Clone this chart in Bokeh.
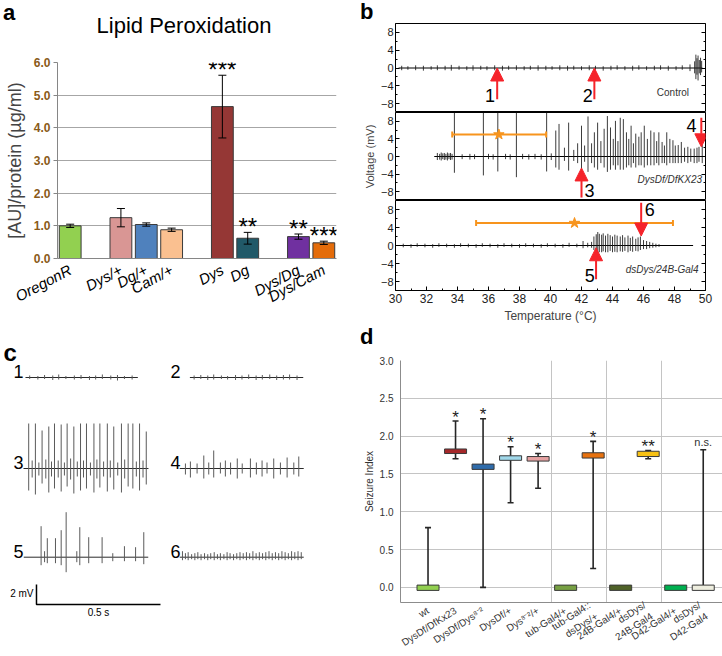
from bokeh.plotting import figure
from bokeh.models import (ColumnDataSource, Range1d, FactorRange, FixedTicker, Arrow, Div, LinearAxis,
                          NormalHead, NumeralTickFormatter)
from bokeh.layouts import column, row
from bokeh.embed import file_html
from bokeh.resources import INLINE
from bokeh.core.properties import value

FONT = "Liberation Sans"
NAN = float("nan")

# ---------------- panel a : lipid peroxidation ----------------
a_groups = ["OregonR", "Dys/+", "Dg/+", "Cam/+", "Dys", "Dg", "Dys/Dg", "Dys/Cam"]
a_means = [1.00, 1.25, 1.04, 0.88, 4.65, 0.62, 0.67, 0.48]
a_errs = [0.05, 0.28, 0.05, 0.05, 0.96, 0.18, 0.08, 0.05]
a_stars = ["", "", "", "", "***", "**", "**", "***"]
a_colors = ["#92d050", "#d99694", "#4f81bd", "#fac090", "#953735", "#215968", "#7030a0", "#e46c0a"]
a_slots = ["OregonR", " ", "Dys/+", "Dg/+", "Cam/+", "  ", "Dys", "Dg", "   ", "Dys/Dg", "Dys/Cam"]
a_yticks = [0, 1, 2, 3, 4, 5, 6]
a_title = "Lipid Peroxidation"

# ---------------- panel b : voltage vs temperature ----------------
b_xticks = [30, 32, 34, 36, 38, 40, 42, 44, 46, 48, 50]
b_yticks = [-8, -4, 0, 4, 8]

ctl_span = [30.2, 49.8]
ctl_T = [30.4, 30.8, 31.3, 31.8, 32.3, 32.7, 33.2, 33.6, 34.1, 34.6,
         35.0, 35.5, 35.9, 36.4, 36.9, 37.3, 37.8, 38.3, 38.7, 39.2,
         39.7, 40.1, 40.6, 41.1, 41.5, 42.0, 42.5, 42.9, 43.4, 43.9,
         44.3, 44.8, 45.3, 45.7, 46.2, 46.7, 47.1, 47.6, 48.1, 48.5,
         49.0, 49.3, 49.38, 49.45, 49.52, 49.6, 49.68, 49.75]
ctl_up = [0.5, 0.4, 0.6, 0.5, 0.4, 0.6, 0.5, 0.7, 0.5, 0.4,
          0.6, 0.5, 0.4, 0.6, 0.5, 0.5, 0.6, 0.4, 0.5, 0.6,
          0.5, 0.4, 0.6, 0.5, 0.5, 0.4, 0.6, 0.5, 0.4, 0.5,
          0.6, 0.4, 0.5, 0.6, 0.4, 0.5, 0.6, 0.5, 0.4, 0.6,
          0.8, 1.5, 3.0, 2.2, 2.8, 1.8, 2.3, 1.6]
ctl_dn = [-0.5, -0.4, -0.5, -0.6, -0.4, -0.5, -0.5, -0.6, -0.4, -0.5,
          -0.6, -0.4, -0.5, -0.5, -0.6, -0.4, -0.5, -0.5, -0.4, -0.6,
          -0.5, -0.4, -0.5, -0.6, -0.4, -0.5, -0.5, -0.4, -0.6, -0.5,
          -0.4, -0.5, -0.6, -0.4, -0.5, -0.5, -0.4, -0.6, -0.5, -0.4,
          -0.7, -1.2, -2.5, -1.5, -2.8, -1.2, -1.6, -1.0]

dys_span = [32.5, 49.9]
dys_T = [32.7, 32.85, 32.95, 33.05, 33.15, 33.25, 33.35, 33.45, 33.55, 33.65,
         33.8, 34.3, 34.8, 35.1, 35.67, 36.0, 36.3, 36.6, 37.1, 37.4,
         37.8, 38.2, 38.6, 39.0, 39.4, 39.75, 40.05,
         40.34, 40.55, 40.9, 41.17, 41.5, 41.75, 42.0, 42.2, 42.42, 42.65,
         42.83, 43.04, 43.25, 43.46, 43.67, 43.87, 44.05, 44.19, 44.35, 44.5,
         44.7, 44.9, 45.05, 45.2, 45.35, 45.5, 45.7, 45.85, 46.05, 46.25,
         46.47, 46.68, 46.85, 46.99, 47.2, 47.35, 47.5, 47.7, 47.9, 48.05,
         48.24, 48.44, 48.65, 48.86, 49.05, 49.27, 49.45, 49.58, 49.79]
dys_up = [0.8, 0.6, 0.9, 0.7, 0.8, 0.6, 0.9, 0.7, 0.8, 0.6,
          10, 0.5, 0.6, 0.5, 10, 0.6, 0.5, 10, 0.6, 0.5,
          10, 0.6, 0.5, 0.6, 0.5, 10, 0.7,
          5.9, 7.4, 2.0, 7.7, 1.5, 3.0, 7.0, 2.5, 9.1, 3.0,
          5.5, 7.7, 3.5, 6.3, 9.2, 6.6, 4.0, 8.1, 3.5, 8.8,
          8.5, 5.5, 4.0, 7.0, 3.0, 5.2, 4.5, 5.5, 7.0, 4.0,
          5.9, 5.5, 3.5, 5.5, 3.3, 2.5, 5.5, 4.0, 3.7, 2.5,
          2.6, 3.3, 2.0, 2.2, 1.8, 1.8, 2.0, 2.2, 2.6]
dys_dn = [-0.8, -0.7, -0.9, -0.6, -0.8, -0.7, -0.9, -0.6, -0.8, -0.7,
          -3.7, -0.6, -0.7, -0.6, -4.3, -0.6, -0.7, -3.4, -0.6, -0.7,
          -4.7, -0.6, -0.7, -0.6, -0.7, -3.4, -0.8,
          -2.5, -3.0, -1.0, -3.2, -1.0, -1.5, -3.0, -1.2, -3.5, -1.5,
          -2.5, -3.0, -1.5, -2.5, -3.5, -3.0, -2.0, -3.0, -2.0, -3.0,
          -3.0, -2.5, -2.0, -2.5, -1.5, -2.5, -2.0, -2.0, -2.5, -2.0,
          -2.0, -2.0, -1.5, -2.0, -1.5, -1.5, -2.0, -1.5, -1.5, -1.5,
          -1.5, -1.5, -1.2, -1.5, -1.2, -1.5, -1.5, -1.2, -1.5]

ds_span = [30.1, 49.2]
ds_T = [30.5, 31.0, 31.4, 31.9, 32.4, 32.8, 33.3, 33.8, 34.2, 34.7,
        35.2, 35.6, 36.1, 36.6, 37.0, 37.5, 38.0, 38.4, 38.9, 39.4,
        39.8, 40.3, 40.8, 41.2, 41.7, 42.1, 42.4,
        42.65, 42.8, 42.95, 43.05, 43.15, 43.3, 43.4, 43.55, 43.7, 43.85,
        44.0, 44.15, 44.3, 44.5, 44.65, 44.8, 45.0, 45.15, 45.3, 45.5,
        45.65, 45.8, 46.0, 46.2, 46.4, 46.6, 46.8, 47.0]
ds_up = [0.4, 0.3, 0.5, 0.4, 0.3, 0.5, 0.4, 0.3, 0.5, 0.4,
         0.3, 0.5, 0.4, 0.3, 0.5, 0.4, 0.3, 0.5, 0.4, 0.3,
         0.5, 0.4, 0.3, 0.6, 0.4, 1.0, 0.6,
         0.8, 2.0, 2.5, 3.0, 2.6, 2.4, 2.7, 2.2, 2.6, 2.3,
         2.0, 2.4, 2.2, 2.0, 2.3, 1.8, 2.2, 1.7, 2.0, 1.5,
         1.8, 2.0, 1.2, 1.0, 0.8, 0.6, 0.4, 0.3]
ds_dn = [-0.4, -0.5, -0.3, -0.4, -0.5, -0.3, -0.4, -0.5, -0.3, -0.4,
         -0.5, -0.3, -0.4, -0.5, -0.3, -0.4, -0.5, -0.3, -0.4, -0.5,
         -0.3, -0.4, -0.5, -0.3, -0.4, -0.6, -0.4,
         -0.5, -1.0, -1.2, -1.5, -1.5, -1.5, -1.3, -1.5, -1.5, -1.2,
         -1.5, -1.4, -1.5, -1.3, -1.4, -1.2, -1.5, -1.2, -1.4, -1.2,
         -1.3, -1.0, -0.8, -0.8, -0.6, -0.5, -0.4, -0.3]

onset_mean = [NAN, 36.67, 41.55]
onset_lo = [NAN, 33.66, 35.2]
onset_hi = [NAN, 39.72, 47.9]
onset_level = [NAN, 5.0, 5.0]
b_names = ["Control", "DysDf/DfKX23", "dsDys/24B-Gal4"]
b_name_T = [47.9, 47.7, 47.2]
b_name_mv = [-5.5, -5.2, -5.4]

arr_panel = [0, 0, 1, 1, 2, 2]
arr_T = [36.56, 42.83, 42.0, 49.73, 42.94, 45.85]
arr_from = [-7.0, -7.0, -9.3, 8.8, -7.5, 9.5]
arr_to = [0.0, 0.0, -2.6, 2.2, -0.5, 2.1]
arr_text = ["1", "2", "3", "4", "5", "6"]
arr_text_T = [36.1, 42.4, 42.52, 49.1, 42.54, 46.4]
arr_text_mv = [-6.2, -6.2, -7.8, 7.1, -6.6, 8.0]

# ---------------- panel c : trace excerpts (s, mV) ----------------
c_span = [[0.008, 0.461], [0.038, 0.495], [0.0, 0.504], [-0.003, 0.497], [0.001, 0.503], [-0.003, 0.497]]
c_t = [
    [0.025, 0.058, 0.085, 0.118, 0.142, 0.171, 0.205, 0.232, 0.266, 0.291, 0.318, 0.352, 0.379, 0.407, 0.438],
    [0.055, 0.082, 0.11, 0.134, 0.165, 0.19, 0.222, 0.248, 0.275, 0.305, 0.33, 0.36, 0.388, 0.415, 0.44, 0.47],
    [0.021, 0.048, 0.075, 0.102, 0.125, 0.152, 0.176, 0.203, 0.230, 0.254, 0.284, 0.308, 0.338, 0.364, 0.395,
     0.422, 0.441, 0.468, 0.495,
     0.035, 0.062, 0.09, 0.113, 0.14, 0.165, 0.19, 0.217, 0.242, 0.27, 0.296, 0.323, 0.35, 0.38, 0.408, 0.455, 0.482],
    [0.020, 0.040, 0.067, 0.094, 0.114, 0.134, 0.161, 0.181, 0.202, 0.229, 0.249, 0.282, 0.306, 0.329, 0.349,
     0.376, 0.403, 0.430, 0.457, 0.477],
    [0.071, 0.085, 0.096, 0.129, 0.152, 0.172, 0.215, 0.227, 0.263, 0.317, 0.36, 0.407, 0.452, 0.485],
    [0.008, 0.02, 0.031, 0.045, 0.058, 0.07, 0.083, 0.097, 0.11, 0.122, 0.136, 0.149, 0.161, 0.175, 0.188, 0.2,
     0.214, 0.227, 0.24, 0.253, 0.266, 0.279, 0.292, 0.305, 0.318, 0.331, 0.344, 0.357, 0.37, 0.383, 0.396,
     0.409, 0.422, 0.435, 0.448, 0.461, 0.474, 0.487],
]
c_up = [
    [0.2, 0.15, 0.25, 0.2, 0.3, 0.15, 0.2, 0.25, 0.15, 0.2, 0.3, 0.2, 0.25, 0.15, 0.2],
    [0.2, 0.25, 0.2, 0.3, 0.2, 0.15, 0.25, 0.2, 0.3, 0.2, 0.25, 0.3, 0.2, 0.25, 0.3, 0.2],
    [4.5, 4.5, 3.8, 4.2, 4.5, 4.4, 4.5, 4.2, 4.5, 4.5, 4.5, 4.5, 4.5, 4.2, 4.5, 4.5, 4.5, 4.5, 3.7,
     0.8, 0.6, 0.9, 0.7, 0.8, 0.6, 1.0, 0.7, 0.8, 0.6, 0.9, 0.7, 0.8, 0.6, 0.9, 0.7, 0.8],
    [0.5, 0.7, 0.5, 1.3, 0.6, 1.8, 0.6, 0.8, 0.6, 1.0, 0.5, 1.0, 0.6, 0.8, 0.6, 1.0, 0.6, 1.1, 0.6, 1.2],
    [3.1, 0.6, 1.9, 1.9, 2.7, 4.5, 0.6, 3.0, 2.0, 2.0, 0.4, 1.1, 1.0, 2.5],
    [0.6, 0.4, 0.5, 0.3, 0.4, 0.5, 0.3, 0.4, 0.3, 0.4, 0.5, 0.3, 0.4, 0.3, 0.5, 0.4, 0.3, 0.4, 0.5,
     0.4, 0.5, 0.4, 0.6, 0.4, 0.5, 0.4, 0.5, 0.6, 0.4, 0.5, 0.4, 0.6, 0.5, 0.4, 0.6, 0.5, 0.6, 0.5],
]
c_dn = [
    [-0.15, -0.2, -0.15, -0.25, -0.2, -0.15, -0.2, -0.15, -0.25, -0.2, -0.15, -0.2, -0.3, -0.15, -0.2],
    [-0.2, -0.15, -0.25, -0.2, -0.15, -0.2, -0.25, -0.2, -0.15, -0.25, -0.2, -0.15, -0.25, -0.2, -0.2, -0.25],
    [-2.2, -2.6, -1.5, -2.4, -2.0, -2.3, -1.8, -2.5, -2.2, -2.0, -2.4, -1.9, -2.3, -2.1, -2.4, -1.8, -2.0,
     -2.2, -1.6,
     -0.9, -0.7, -1.0, -0.8, -0.9, -0.7, -1.1, -0.8, -0.9, -0.7, -1.0, -0.8, -0.9, -0.7, -1.0, -0.8, -0.9],
    [-0.6, -0.9, -0.5, -1.0, -0.6, -0.9, -0.5, -0.8, -0.6, -1.0, -0.5, -0.9, -0.6, -0.8, -0.5, -1.0, -0.6,
     -0.9, -0.6, -0.8],
    [-0.8, -0.5, -0.6, -0.6, -0.8, -1.5, -0.5, -0.8, -0.6, -0.6, -0.4, -0.4, -0.4, -0.7],
    [-0.3, -0.2] * 19,
]
c_names = ["1", "2", "3", "4", "5", "6"]
c_scale_mv = 2
c_scale_s = 0.5

# ---------------- panel d : seizure index ----------------
d_labels = ["wt", "DysDf/DfKx23", "DysDf/Dys\u2078\u207b\u00b2", "DysDf/+", "Dys\u2078\u207b\u00b2/+",
            "tub-Gal4/+", "tub-Gal4::\ndsDys/+", "24B-Gal4/+", "dsDys/\n24B-Gal4", "D42-Gal4/+",
            "dsDys/\nD42-Gal4"]
d_q1 = [-0.04, 1.77, 1.56, 1.68, 1.67, -0.04, 1.71, -0.04, 1.73, -0.04, -0.04]
d_q3 = [0.03, 1.83, 1.63, 1.74, 1.73, 0.03, 1.78, 0.03, 1.80, 0.03, 0.03]
d_lo = [0.0, 1.70, 0.0, 1.12, 1.31, NAN, 0.25, NAN, 1.70, NAN, 0.0]
d_hi = [0.79, 2.20, 2.23, 1.86, 1.77, NAN, 1.93, NAN, 1.81, NAN, 1.82]
d_sig = ["", "*", "*", "*", "*", "", "*", "", "**", "", "n.s."]
d_colors = ["#92d050", "#a5282a", "#2f6cab", "#a0d8ea", "#e6a2a2", "#77a043", "#e8720f", "#4f6228",
            "#f7c114", "#00b050", "#eeeedf"]
d_yticks = [0.0, 0.5, 1.0, 1.5, 2.0, 2.5, 3.0]
d_groups_sep = [5.5, 7.5, 9.5]


def mkfig(**kw):
    return figure(output_backend="svg", toolbar_location=None, **kw)


FONT_CSS = "font-family:'Liberation Sans',Arial,sans-serif;color:#000;"


def head_div(w, h, items):
    spans = "".join(
        f'<span style="position:absolute;left:{x}px;top:{y}px;{extra}font-size:{fs}px;'
        f'font-weight:{fw};line-height:1;white-space:nowrap;">{t}</span>'
        for (t, x, y, fs, fw, extra) in items)
    return Div(text=f'<div style="position:relative;width:{w}px;height:{h}px;{FONT_CSS}">{spans}</div>',
               width=w, height=h, margin=(0, 0, 0, 0))


# ================= panel a =================
a_src = ColumnDataSource(dict(g=a_groups, m=a_means,
                              lo=[m - e for m, e in zip(a_means, a_errs)],
                              hi=[m + e for m, e in zip(a_means, a_errs)],
                              c=a_colors, s=a_stars))
pA = mkfig(width=360, height=273, x_range=FactorRange(factors=a_slots, range_padding=0),
           y_range=Range1d(0, 6.0), min_border_left=57, min_border_right=24, min_border_top=10,
           min_border_bottom=67)
pA.vbar(x="g", top="m", width=0.86, source=a_src, fill_color="c", line_color="#3a3a3a", line_width=1)
pA.segment(x0="g", y0="lo", x1="g", y1="hi", source=a_src, line_color="black", line_width=1)
pA.scatter(x="g", y="lo", source=a_src, marker="dash", size=8, line_color="black", line_width=1)
pA.scatter(x="g", y="hi", source=a_src, marker="dash", size=8, line_color="black", line_width=1)
pA.text(x="g", y="hi", text="s", source=a_src, text_font=value(FONT), text_font_size="24px",
        text_align="center", text_baseline="alphabetic", y_offset=-6, text_color="black")
pA.yaxis.ticker = FixedTicker(ticks=a_yticks)
pA.yaxis.formatter = NumeralTickFormatter(format="0.0")
pA.yaxis.major_label_text_color = "#8a5a18"
pA.yaxis.major_label_text_font_size = "12px"
pA.yaxis.major_label_text_font_style = "bold"
pA.yaxis.major_label_standoff = 3
pA.yaxis.axis_label = "[AU]/protein (\u00b5g/ml)"
pA.yaxis.axis_label_text_font_size = "18px"
pA.yaxis.axis_label_text_font_style = "normal"
pA.yaxis.axis_label_standoff = 6
pA.yaxis.axis_line_color = "#868686"
pA.yaxis.major_tick_line_color = "#868686"
pA.yaxis.major_tick_out = 4
pA.yaxis.major_tick_in = 0
pA.yaxis.minor_tick_line_color = None
pA.xaxis.major_label_orientation = 0.49
pA.xaxis.major_label_text_font_size = "15px"
pA.xaxis.major_label_text_font_style = "italic"
pA.xaxis.major_label_text_color = "black"
pA.xaxis.major_label_standoff = 4
pA.xaxis.major_tick_line_color = None
pA.xaxis.axis_line_color = "#868686"
for ax in pA.axis:
    ax.major_label_text_font = FONT
    ax.axis_label_text_font = FONT
pA.xgrid.grid_line_color = None
pA.ygrid.grid_line_color = "#a6a6a6"
pA.outline_line_color = None
divA = head_div(360, 52, [("a", 3, 2, 22, "bold", ""),
                          (a_title, 0, 15, 22, "normal", "width:368px;text-align:center;")])

# ================= panel b =================
b_xr = Range1d(30, 50)
RED = "#f5232a"
ORANGE = "#f7941d"
traces_b = [(ctl_span, ctl_T, ctl_up, ctl_dn), (dys_span, dys_T, dys_up, dys_dn), (ds_span, ds_T, ds_up, ds_dn)]
b_specs = [(89, 0), (88, 0), (125, 34)]
b_figs = []
for i, (h, bottom) in enumerate(b_specs):
    p = mkfig(width=362, height=h, x_range=b_xr, y_range=Range1d(-10, 10), min_border_left=26,
              min_border_right=17, min_border_top=0, min_border_bottom=bottom,
              x_axis_location=("below" if i == 2 else None))
    p.outline_line_color = "black"
    p.outline_line_width = 1
    p.grid.grid_line_color = None
    ytick = FixedTicker(ticks=b_yticks, minor_ticks=[-10, -6, -2, 2, 6, 10])
    p.yaxis.ticker = ytick
    right_ax = LinearAxis(ticker=ytick, major_label_standoff=0,
                          major_label_overrides={t: "" for t in b_yticks})
    right_ax.major_label_text_color = None
    p.add_layout(right_ax, "right")
    for ax in p.axis:
        ax.major_tick_in = 4
        ax.major_tick_out = 0
        ax.minor_tick_in = 2
        ax.minor_tick_out = 0
        ax.axis_line_color = None
        ax.major_label_text_font = FONT
        ax.axis_label_text_font = FONT
        ax.axis_label_text_font_style = "normal"
    p.yaxis[0].major_label_text_color = "#222222"
    p.yaxis[0].major_label_text_font_size = "11px"
    p.yaxis[0].major_label_standoff = 2
    if i == 1:
        p.yaxis[0].axis_label = "Voltage (mV)"
        p.yaxis[0].axis_label_text_font_size = "11px"
        p.yaxis[0].axis_label_standoff = 2
    if i == 2:
        p.xaxis.ticker = FixedTicker(ticks=b_xticks, minor_ticks=[31, 33, 35, 37, 39, 41, 43, 45, 47, 49])
        p.xaxis.major_label_text_color = "#222222"
        p.xaxis.major_label_text_font_size = "12px"
        p.xaxis.major_label_standoff = 3
        p.xaxis.axis_label = "Temperature (\u00b0C)"
        p.xaxis.axis_label_text_font_size = "12px"
        p.xaxis.axis_label_standoff = 3
    span, T, up, dn = traces_b[i]
    p.line(x=span, y=[0, 0], line_color="black", line_width=1)
    p.segment(x0=T, y0=dn, x1=T, y1=up, line_color="#1a1a1a", line_width=1, line_alpha=0.85)
    if onset_mean[i] == onset_mean[i]:
        p.segment(x0=[onset_lo[i]], y0=[onset_level[i]], x1=[onset_hi[i]], y1=[onset_level[i]],
                  line_color=ORANGE, line_width=2)
        p.scatter(x=[onset_lo[i], onset_hi[i]], y=[onset_level[i]] * 2, marker="dash", angle=1.5708,
                  size=6, line_color=ORANGE, line_width=2)
        p.scatter(x=[onset_mean[i]], y=[onset_level[i]], marker="star", size=11,
                  fill_color=ORANGE, line_color=ORANGE)
    p.text(x=[b_name_T[i]], y=[b_name_mv[i]], text=[b_names[i]], text_font=value(FONT),
           text_font_size="10px", text_align="center", text_baseline="middle", text_color="#333333",
           text_font_style=("normal" if i == 0 else "italic"))
    for k in range(len(arr_T)):
        if arr_panel[k] != i:
            continue
        p.add_layout(Arrow(end=NormalHead(size=13, fill_color=RED, line_color=RED, line_width=1),
                           x_start=arr_T[k], y_start=arr_from[k], x_end=arr_T[k], y_end=arr_to[k],
                           line_color=RED, line_width=2))
        p.text(x=[arr_text_T[k]], y=[arr_text_mv[k]], text=[arr_text[k]], text_font=value(FONT),
               text_font_size="18px", text_align="center", text_baseline="middle", text_color="black")
    b_figs.append(p)
divB = head_div(362, 23, [("b", 0, 1, 22, "bold", "")])

# ================= panel c =================
pC = mkfig(width=360, height=331, x_range=Range1d(-0.0927, 1.3589), y_range=Range1d(-18.8, 14.3),
           x_axis_type=None, y_axis_type=None, min_border=0, min_border_left=0, min_border_right=0,
           min_border_top=0, min_border_bottom=0)
pC.outline_line_color = None
C_COL = [0.0, 0.633]          # layout: left/right column start (s)
C_ROW = [9.1, 0.0, -8.87]     # layout: row baselines (mV)
for k in range(6):
    xo = C_COL[k % 2]
    yo = C_ROW[k // 2]
    pC.line(x=[xo + s for s in c_span[k]], y=[yo, yo], line_color="#2a2a2a", line_width=1)
    pC.segment(x0=[xo + t for t in c_t[k]], y0=[yo + d for d in c_dn[k]],
               x1=[xo + t for t in c_t[k]], y1=[yo + u for u in c_up[k]],
               line_color="#5a5a5a", line_width=1)
    pC.text(x=[xo], y=[yo + 0.6], text=[c_names[k]], text_font=value(FONT), text_font_size="18px",
            text_align="right", text_baseline="alphabetic", text_color="black")
sb_x, sb_y = 0.0524, -13.6
pC.line(x=[sb_x, sb_x, sb_x + c_scale_s], y=[sb_y + c_scale_mv, sb_y, sb_y], line_color="black", line_width=1.5)
pC.text(x=[sb_x - 0.012], y=[sb_y + c_scale_mv * 0.55], text=[f"{c_scale_mv} mV"], text_font=value(FONT),
        text_font_size="10px", text_align="right", text_baseline="middle")
pC.text(x=[sb_x + c_scale_s * 0.5], y=[sb_y - 0.25], text=[f"{c_scale_s} s"], text_font=value(FONT),
        text_font_size="10px", text_align="center", text_baseline="top")
pC.text(x=[-0.0806], y=[11.6], text=["c"], text_font=value(FONT), text_font_size="24px",
        text_font_style="bold", text_align="left", text_baseline="alphabetic")

# ================= panel d =================
xs = list(range(1, len(d_labels) + 1))
d_src = ColumnDataSource(dict(x=xs, q1=d_q1, q3=d_q3, lo=d_lo, hi=d_hi, c=d_colors))
pD = mkfig(width=362, height=304, x_range=Range1d(0, 11.7), y_range=Range1d(-0.2, 3.0),
           min_border_left=28, min_border_right=0, min_border_top=8, min_border_bottom=47)
pD.segment(x0="x", y0="lo", x1="x", y1="hi", source=d_src, line_color="#262626", line_width=1.6)
pD.scatter(x="x", y="lo", source=d_src, marker="dash", size=6, line_color="#262626", line_width=1.6)
pD.scatter(x="x", y="hi", source=d_src, marker="dash", size=6, line_color="#262626", line_width=1.6)
pD.vbar(x="x", bottom="q1", top="q3", width=0.8, source=d_src, fill_color="c", line_color="#3a3a3a",
        line_width=1)
star_i = [i for i, s in enumerate(d_sig) if s.startswith("*")]
ns_i = [i for i, s in enumerate(d_sig) if s and not s.startswith("*")]
pD.text(x=[xs[i] for i in star_i], y=[d_hi[i] for i in star_i], text=[d_sig[i] for i in star_i],
        text_font=value(FONT), text_font_size="17px", text_align="center", text_baseline="alphabetic",
        y_offset=-4, text_color="#222222")
pD.text(x=[xs[i] for i in ns_i], y=[d_hi[i] for i in ns_i], text=[d_sig[i] for i in ns_i],
        text_font=value(FONT), text_font_size="11px", text_align="center", text_baseline="alphabetic",
        y_offset=-8, text_color="#333333")
pD.yaxis.ticker = FixedTicker(ticks=d_yticks)
pD.yaxis.formatter = NumeralTickFormatter(format="0.0")
pD.xaxis.ticker = FixedTicker(ticks=xs)
pD.xaxis.major_label_overrides = {x: lab for x, lab in zip(xs, d_labels)}
pD.xaxis.major_label_orientation = 0.57
pD.yaxis.axis_label = "Seizure Index"
for ax in pD.axis:
    ax.major_label_text_font = FONT
    ax.axis_label_text_font = FONT
    ax.major_label_text_font_size = "10px"
    ax.major_label_text_color = "#333333"
    ax.axis_label_text_font_size = "10px"
    ax.axis_label_text_font_style = "normal"
    ax.axis_label_text_color = "#333333"
    ax.major_tick_line_color = None
    ax.minor_tick_line_color = None
    ax.axis_line_color = "#8c8c8c"
    ax.major_label_standoff = 1
    ax.axis_label_standoff = 2
pD.ygrid.grid_line_color = "#c4c4c4"
pD.ygrid.grid_line_width = 1.2
pD.xgrid.ticker = FixedTicker(ticks=d_groups_sep)
pD.xgrid.grid_line_color = "#c4c4c4"
pD.outline_line_color = None
divD = head_div(362, 27, [("d", 0, 1, 22, "bold", "")])

layout = column(row(column(divA, pA), column(divB, *b_figs)),
                row(column(pC), column(divD, pD)))
open("out.html", "w").write(file_html(layout, INLINE))
